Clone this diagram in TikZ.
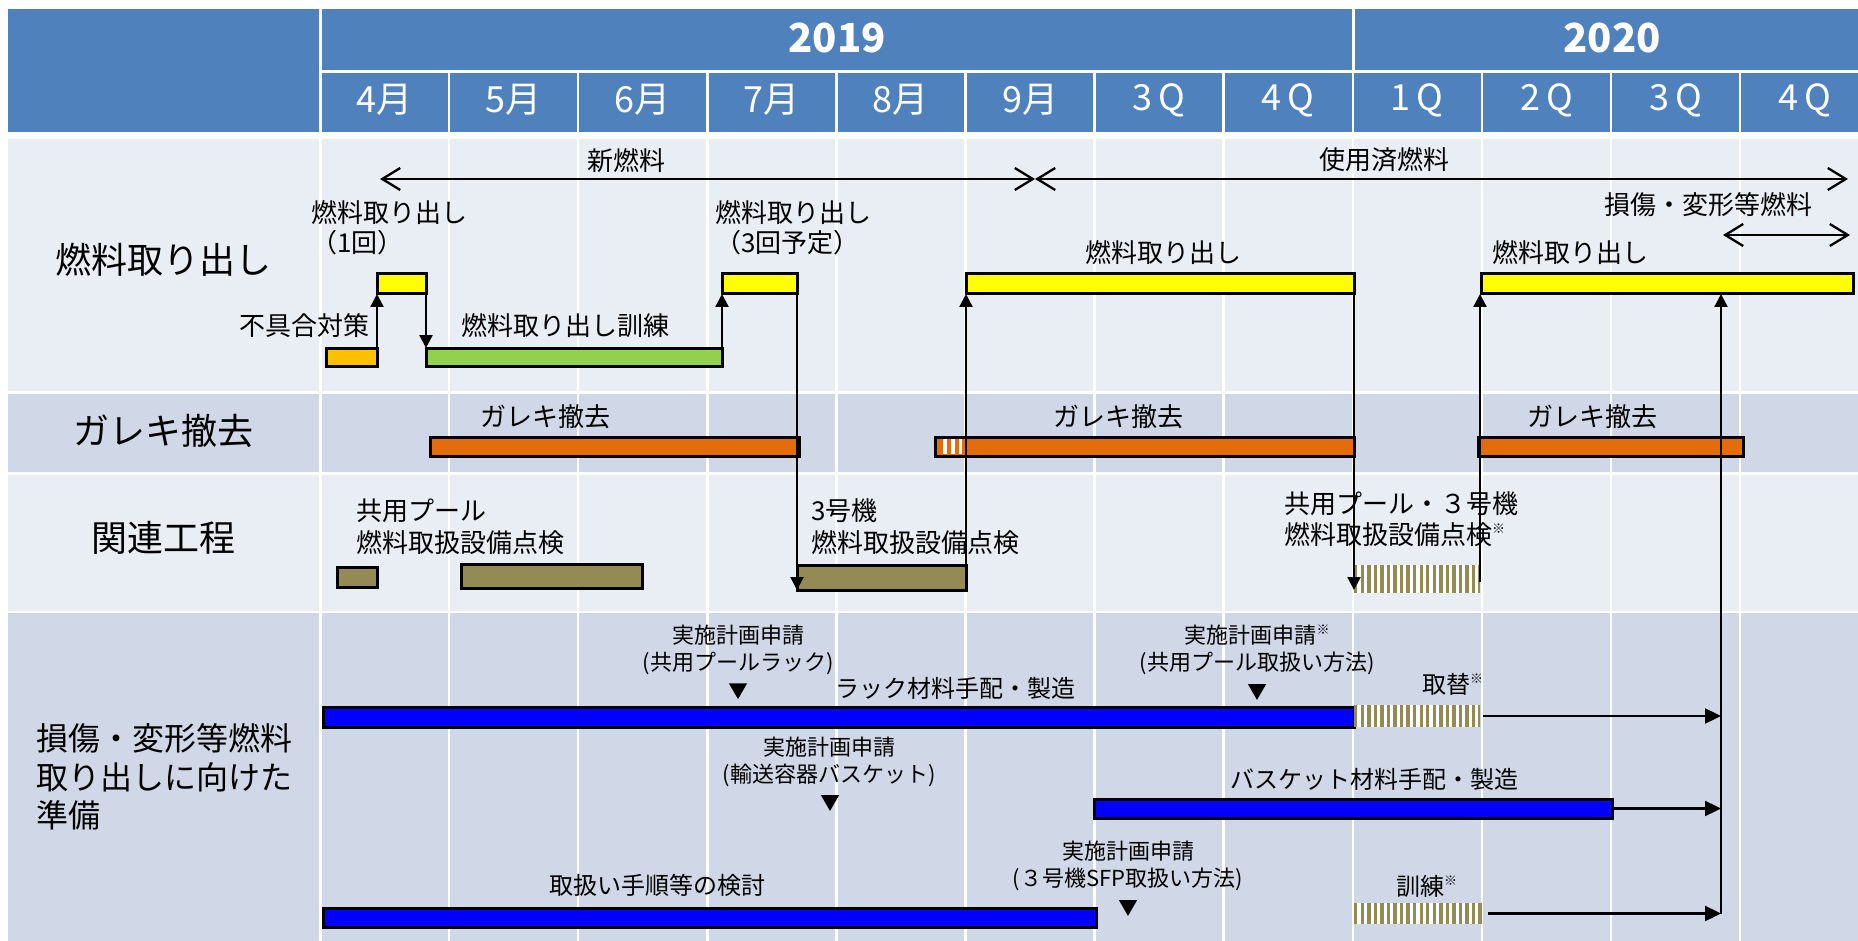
\documentclass[tikz,border=0pt]{standalone}
\usepackage{fontspec}
\setmainfont{Noto Sans CJK JP}
\usetikzlibrary{arrows.meta,shapes.geometric,calc}
\definecolor{hdr}{HTML}{4F81BD}
\definecolor{rowA}{HTML}{E9EDF4}
\definecolor{rowB}{HTML}{D0D8E8}
\definecolor{ylw}{HTML}{FFFF00}
\definecolor{amber}{HTML}{FFC000}
\definecolor{grn}{HTML}{92D050}
\definecolor{org}{HTML}{E46C0A}
\definecolor{olv}{HTML}{948A54}
\definecolor{blu}{HTML}{0000FF}
\newcommand{\kome}{\raisebox{0.42em}{\fontsize{13}{13}\selectfont ※}}
\newcommand{\gbar}[6]{\node[bar,#1,minimum width={#5-#3},minimum height={#6-#4}] (#2) at ({(#3+#5)/2},{(#4+#6)/2}) {};}
\newcommand{\hatchbar}[5]{%
  \node[inner sep=0pt,outer sep=0pt,minimum width={#4-#2},minimum height={#5-#3}] (#1) at ({(#2+#4)/2},{(#3+#5)/2}) {};
  \fill[white] (#2,#3) rectangle (#4,#5);
  \begin{scope}
    \clip (#2,#3) rectangle (#4,#5);
    \foreach \k in {0,...,20} \fill[olv] ({#2+\k*6.55},#3) rectangle ({#2+\k*6.55+3.4},#5);
  \end{scope}}
\begin{document}
\begin{tikzpicture}[x=1pt,y=-1pt,
  bar/.style={draw=black,line width=3pt,inner sep=0pt,outer sep=0pt},
  conn/.style={line width=2.3pt,-{Triangle[length=13pt,width=13pt]}},
  hconn/.style={line width=2.3pt,-{Triangle[length=16pt,width=15pt]}},
  span/.style={line width=2.3pt,{Straight Barb[length=18pt,width=22pt]}-{Straight Barb[length=18pt,width=22pt]}},
  lbl/.style={font=\fontsize{26}{30}\selectfont,inner sep=0pt},
  slbl/.style={font=\fontsize{24}{28}\selectfont,inner sep=0pt},
  tlbl/.style={font=\fontsize{22}{27}\selectfont,inner sep=0pt,align=center},
  cat/.style={font=\fontsize{36}{40}\selectfont,inner sep=0pt},
  hd/.style={font=\fontsize{36}{40}\selectfont,text=white,inner sep=0pt},
  yr/.style={font=\fontsize{40}{44}\selectfont\bfseries,text=white,inner sep=0pt},
  tri/.style={regular polygon,regular polygon sides=3,shape border rotate=180,fill=black,minimum size=21pt,inner sep=0pt},
  grid/.style={white,line width=2.5pt}]
\useasboundingbox (0,0) rectangle (1858,941);
\clip (0,0) rectangle (1858,941);
% header
\fill[hdr] (8,9) rectangle (1870,132);
\draw[white,line width=3pt] (320,9) -- (320,132);
\draw[white,line width=3pt] (320,71.5) -- (1870,71.5);
\draw[white,line width=3pt] (1353,9) -- (1353,71.5);
\foreach \i in {1,...,11} \draw[grid] ({320+129.1*\i},71.5) -- ({320+129.1*\i},132);
\node[yr] (y2019) at (837,38) {2019};
\node[yr] (y2020) at (1612,38) {2020};
\foreach \m [count=\i from 0] in {4月,5月,6月,7月,8月,9月,3\,Q,4\,Q,1\,Q,2\,Q,3\,Q,4\,Q}
  \node[hd] (m\i) at ({320+129.1*\i+64.5},100) {\m};
% body rows
\fill[rowA] (8,139) rectangle (1870,391);
\fill[rowB] (8,393.5) rectangle (1870,472);
\fill[rowA] (8,475) rectangle (1870,610.5);
\fill[rowB] (8,613) rectangle (1870,941);
\draw[white,line width=3pt] (320,139) -- (320,941);
\foreach \i in {1,...,11} \draw[grid] ({320+129.1*\i},139) -- ({320+129.1*\i},941);
% category labels
\node[cat] (c1) at (163,260) {燃料取り出し};
\node[cat] (c2) at (163,431) {ガレキ撤去};
\node[cat] (c3) at (163,538) {関連工程};
\node[cat,font=\fontsize{32}{38.5}\selectfont,align=left,anchor=west] (c4) at (36,777) {損傷・変形等燃料\\取り出しに向けた\\準備};
% section 1
\node[lbl] (tnew) at (626,161) {新燃料};
\node[lbl] (tused) at (1384,160) {使用済燃料};
\node[lbl] (tdmg) at (1708,205) {損傷・変形等燃料};
\coordinate (nfL) at (380,179);
\coordinate (nfR) at (1035,179);
\coordinate (sfR) at (1848,179);
\draw[span] (nfL) -- (nfR);
\draw[span] (nfR) -- (sfR);
\coordinate (dfL) at (1723,235);
\coordinate (dfR) at (1850,235);
\draw[span] (dfL) -- (dfR);
\gbar{fill=amber}{O1}{326}{348}{377}{366}
\gbar{fill=ylw}{Y1}{377}{274}{426}{294}
\gbar{fill=grn}{G1}{426}{348}{722}{366}
\gbar{fill=ylw}{Y2}{722}{274}{797}{294}
\gbar{fill=ylw}{Y3}{966}{274}{1354}{294}
\gbar{fill=ylw}{Y4}{1481}{274}{1853}{294}
\node[lbl] (tfix) at (304,326) {不具合対策};
\node[lbl] (ttrain) at (565,326) {燃料取り出し訓練};
\node[lbl,align=left,anchor=west] (t1) at (311,228) {燃料取り出し\\（1回）};
\node[lbl,align=left,anchor=west] (t3) at (715,228) {燃料取り出し\\（3回予定）};
\node[lbl] (tY3) at (1163,253) {燃料取り出し};
\node[lbl] (tY4) at (1570,253) {燃料取り出し};
% section 2
\gbar{fill=org}{GA1}{430}{437}{799}{456}
\gbar{fill=org}{GA2}{935}{437}{1354}{456}
\foreach \s in {943,951,958.8} \fill[white] (\s,438.6) rectangle ({\s+3.6},454.4);
\gbar{fill=org}{GA3}{1478}{437}{1743}{456}
\node[lbl] (tg1) at (545,417) {ガレキ撤去};
\node[lbl] (tg2) at (1118,417) {ガレキ撤去};
\node[lbl] (tg3) at (1592,417) {ガレキ撤去};
% section 3
\gbar{fill=olv}{R1}{337}{567}{377}{587}
\gbar{fill=olv}{R2}{461}{564}{642}{588}
\gbar{fill=olv}{R3}{797}{565}{966}{590}
\hatchbar{H1}{1354}{565}{1480}{593}
\node[lbl,align=left,anchor=west,font=\fontsize{26}{32}\selectfont] (tr1) at (356,527) {共用プール\\燃料取扱設備点検};
\node[lbl,align=left,anchor=west,font=\fontsize{26}{32}\selectfont] (tr3) at (811,527) {3号機\\燃料取扱設備点検};
\node[lbl,align=left,anchor=west,font=\fontsize{26}{31}\selectfont] (th1) at (1284,519.5) {共用プール・３号機\\燃料取扱設備点検\kome};
% section 4
\gbar{fill=blu}{B1}{323}{707}{1354}{727}
\hatchbar{H2}{1354}{705}{1480}{727}
\gbar{fill=blu}{B2}{1094}{799}{1612}{818}
\gbar{fill=blu}{B3}{323}{908}{1096}{927}
\hatchbar{H3}{1354}{903}{1483}{924}
\node[slbl] (tb1) at (955,688) {ラック材料手配・製造};
\node[slbl] (tb2) at (1374,779) {バスケット材料手配・製造};
\node[slbl] (tb3) at (657,885) {取扱い手順等の検討};
\node[slbl,anchor=west] (th2) at (1422,684) {取替\kome};
\node[slbl,anchor=west] (th3) at (1396,886) {訓練\kome};
\node[tlbl] (ta1) at (738,650) {実施計画申請\\(共用プールラック)};
\node[tlbl] (ta2) at (829,761.5) {実施計画申請\\(輸送容器バスケット)};
\node[tlbl] (ta3) at (1257,650) {実施計画申請\kome\\(共用プール取扱い方法)};
\node[tlbl] (ta4) at (1128,866) {実施計画申請\\(３号機SFP取扱い方法)};
\node[tri] (T1) at (738,688.6) {};
\node[tri] (T2) at (830,800.4) {};
\node[tri] (T3) at (1257,689.4) {};
\node[tri] (T4) at (1128,905.4) {};
% connectors
\draw[conn] (O1.north east) -- (Y1.south west);
\draw[conn] (Y1.south east) -- (G1.north west);
\draw[conn] (G1.north east) -- (Y2.south west);
\draw[conn] (Y2.south east) -- (R3.south west);
\draw[conn] (R3.south east) -- (Y3.south west);
\draw[conn] (Y3.south east) -- ([yshift=3pt]H1.south west);
\draw[conn] ([yshift=-3pt]H1.east) -- (H1.east |- Y4.south);
\coordinate (vj) at (1721,913.5);
\draw[conn] (vj) -- (vj |- Y4.south);
\draw[hconn] ([xshift=3pt]H2.east) -- (H2.east -| vj);
\draw[hconn] (B2.east) -- (B2.east -| vj);
\draw[hconn] ([xshift=5pt]H3.east) -- (H3.east -| vj);
\end{tikzpicture}
\end{document}
